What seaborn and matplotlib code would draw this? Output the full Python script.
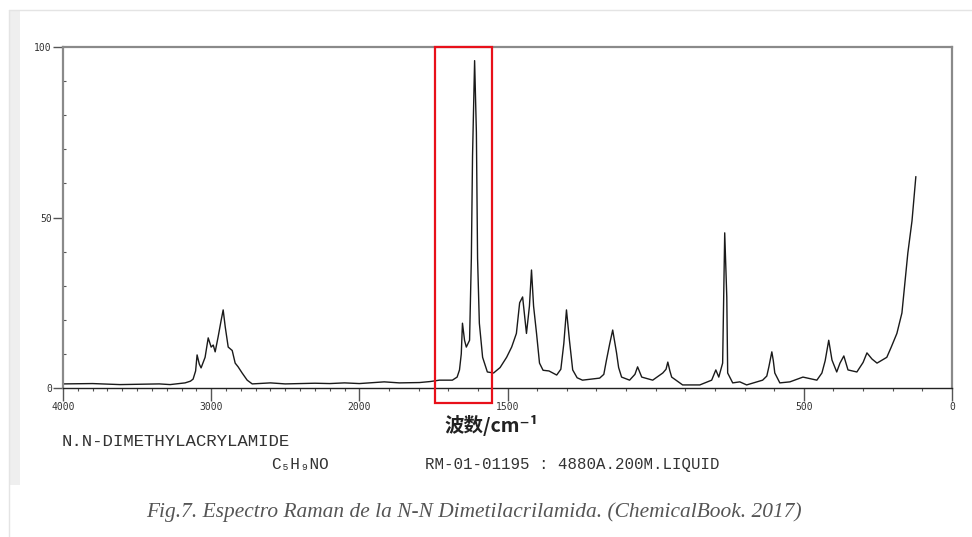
import numpy as np
import pandas as pd
import matplotlib
matplotlib.use("Agg")
import matplotlib.pyplot as plt
import seaborn as sns
from matplotlib.patches import Rectangle
from matplotlib.lines import Line2D

# ---------------- data ----------------
wavenumber = [4000, 3800, 3615, 3500, 3350, 3277, 3176, 3140, 3122, 3105, 3095, 3080, 3068,
              3041, 3020, 3000, 2986, 2973, 2953, 2932, 2919, 2905, 2885, 2858, 2838,
              2818, 2791, 2757, 2723, 2600, 2500, 2400, 2300, 2200, 2100, 2000, 1916,
              1865, 1797, 1760, 1730, 1686, 1670, 1662, 1656, 1652, 1645, 1639, 1628,
              1622, 1618, 1611, 1605, 1601, 1595, 1584, 1568, 1547, 1525, 1503, 1486,
              1470, 1459, 1449, 1442, 1436, 1426, 1419, 1412, 1402, 1392, 1380, 1360,
              1334, 1320, 1310, 1301, 1291, 1280, 1265, 1247, 1189, 1175, 1166, 1155,
              1145, 1132, 1125, 1115, 1088, 1070, 1061, 1053, 1047, 1010, 976, 965, 959,
              952, 946, 909, 851, 811, 797, 787, 774, 767, 760, 757, 740, 716, 693, 639,
              625, 618, 608, 603, 598, 581, 547, 503, 456, 439, 428, 422, 416, 405, 389,
              378, 365, 351, 321, 300, 287, 270, 253, 220, 205, 186, 169, 159, 149, 135,
              122]
intensity = [1.2, 1.3, 1.0, 1.1, 1.2, 1.0, 1.5, 2.0, 2.6, 5.0, 9.7, 7.0, 5.9,
             9.0, 14.7, 12.0, 12.6, 10.6, 15.0, 20.0, 22.9, 17.9, 12.0, 11.0, 7.3,
             6.2, 4.4, 2.3, 1.2, 1.5, 1.2, 1.3, 1.4, 1.3, 1.5, 1.3, 1.8,
             1.5, 1.6, 1.9, 2.3, 2.3, 3.2, 5.3, 10.0, 19.0, 14.0, 12.0, 14.0,
             38.0, 68.0, 96.0, 75.0, 38.0, 19.0, 9.0, 4.7, 4.4, 6.0, 9.0, 12.0,
             16.0, 25.0, 26.7, 21.0, 16.0, 24.0, 34.6, 24.0, 16.0, 7.3, 5.2, 5.0,
             3.8, 5.5, 13.0, 22.9, 14.0, 5.3, 3.0, 2.3, 2.9, 4.0, 8.2, 13.0,
             17.0, 10.3, 6.0, 3.2, 2.3, 4.0, 6.2, 4.5, 3.2, 2.3, 4.4, 5.5, 7.6,
             5.0, 3.2, 0.9, 0.9, 2.3, 5.3, 3.2, 7.3, 45.5, 26.7, 4.4, 1.5, 1.8, 0.9, 2.3,
             3.5, 6.2, 10.6, 8.0, 4.4, 1.5, 1.8, 3.2, 2.3, 4.4, 8.0, 11.0, 14.0, 8.2, 4.7,
             7.3, 9.4, 5.3, 4.7, 7.5, 10.3, 8.5, 7.3, 9.0, 12.0, 16.0, 22.0, 30.8, 39.6, 49.0,
             62.0]

x_major_ticks = [4000, 3000, 2000, 1500, 500, 0]
x_major_labels = ["4000", "3000", "2000", "1500", "500", "0"]
y_major_ticks = [0, 50, 100]
highlight_range = (1551, 1743)   # red box, cm-1

compound_name = "N.N-DIMETHYLACRYLAMIDE"
formula = "C₅H₉NO"
sample_info = "RM-01-01195 : 4880A.200M.LIQUID"
x_label = "波数/cm⁻¹"
caption = "Fig.7. Espectro Raman de la N-N Dimetilacrilamida. (ChemicalBook. 2017)"

df = pd.DataFrame({"wavenumber": wavenumber, "intensity": intensity})

# ---------------- figure ----------------
sns.set_theme(style="white")
plt.rcParams['font.family'] = ['DejaVu Sans']

W, H = 972, 537
fig = plt.figure(figsize=(W / 100, H / 100), dpi=100)
fig.patch.set_facecolor("white")

def fx(px):
    return px / W

def fy(py):
    return 1 - py / H

ax = fig.add_axes([fx(63), fy(388), fx(952) - fx(63), fy(47) - fy(388)])

# piecewise axis: 4000-2000 compressed by half
def fwd(w):
    w = np.asarray(w, dtype=float)
    return np.where(w <= 2000, w, 2000 + (w - 2000) * 0.5)

def inv(u):
    u = np.asarray(u, dtype=float)
    return np.where(u <= 2000, u, 2000 + (u - 2000) * 2.0)

ax.set_xscale("function", functions=(fwd, inv))

sns.lineplot(data=df, x="wavenumber", y="intensity", ax=ax, color="#1a1a1a",
             linewidth=1.0, estimator=None, sort=False)

ax.set_xlim(4000, 0)
ax.set_ylim(0, 100)
ax.set_xlabel("")
ax.set_ylabel("")

ax.set_xticks(x_major_ticks)
ax.set_xticklabels(x_major_labels)
ax.set_xticks(np.arange(0, 4001, 100), minor=True)
ax.set_yticks(y_major_ticks)
ax.set_yticklabels([str(v) for v in y_major_ticks])
ax.set_yticks(np.arange(0, 101, 10), minor=True)

ax.tick_params(axis="x", which="major", direction="out", length=9, width=1,
               color="#555555", labelsize=7, labelcolor="#333333", pad=1,
               bottom=True)
ax.tick_params(axis="x", which="minor", direction="out", length=2.5, width=0.8,
               color="#555555", bottom=True)
ax.tick_params(axis="y", which="major", direction="out", length=7, width=1,
               color="#555555", labelsize=7, labelcolor="#333333", pad=1, left=True)
ax.tick_params(axis="y", which="minor", direction="in", length=2, width=0.8,
               color="#555555", left=True)
for lab in ax.get_xticklabels() + ax.get_yticklabels():
    lab.set_fontfamily("DejaVu Sans Mono")

for side in ["left", "top", "right"]:
    ax.spines[side].set_visible(True)
    ax.spines[side].set_color("#8a8a8a")
    ax.spines[side].set_linewidth(1.6)
ax.spines["bottom"].set_color("#222222")
ax.spines["bottom"].set_linewidth(1.0)

# red highlight box
lo, hi = highlight_range
ax.add_patch(Rectangle((lo, -4.5), hi - lo, 104.5, fill=False, edgecolor="#e8101a",
                       linewidth=1.6, clip_on=False, zorder=5))

# x label
fig.text(fx(491), fy(425), x_label, ha="center", va="center", fontsize=14,
         family=["Noto Sans CJK SC", "DejaVu Sans"], color="#222222", fontweight="bold")

# spectrum annotations
fig.text(fx(62), fy(442), compound_name, ha="left", va="center", fontsize=12.5,
         family=["Liberation Mono", "DejaVu Sans Mono"], color="#333333")
fig.text(fx(271), fy(465), formula, ha="left", va="center", fontsize=11.5,
         family=["Liberation Mono", "DejaVu Sans Mono"], color="#333333")
fig.text(fx(425), fy(465), sample_info, ha="left", va="center", fontsize=11.3,
         family=["Liberation Mono", "DejaVu Sans Mono"], color="#333333")

# caption
fig.text(fx(474), fy(512), caption, ha="center", va="center", fontsize=15.4,
         family=["Liberation Serif", "DejaVu Serif"], style="italic", color="#555555")

# page decoration (gray strip and top line)
fig.patches.append(Rectangle((fx(9), fy(485)), fx(20) - fx(9), fy(10) - fy(485),
                             transform=fig.transFigure, facecolor="#efefef",
                             edgecolor="none", zorder=0))
fig.lines.append(Line2D([fx(9), fx(972)], [fy(10), fy(10)], transform=fig.transFigure,
                        color="#e4e4e4", linewidth=1))
fig.lines.append(Line2D([fx(9), fx(9)], [fy(10), fy(537)], transform=fig.transFigure,
                        color="#e4e4e4", linewidth=1))

fig.savefig("out.png", dpi=100, facecolor="white")
